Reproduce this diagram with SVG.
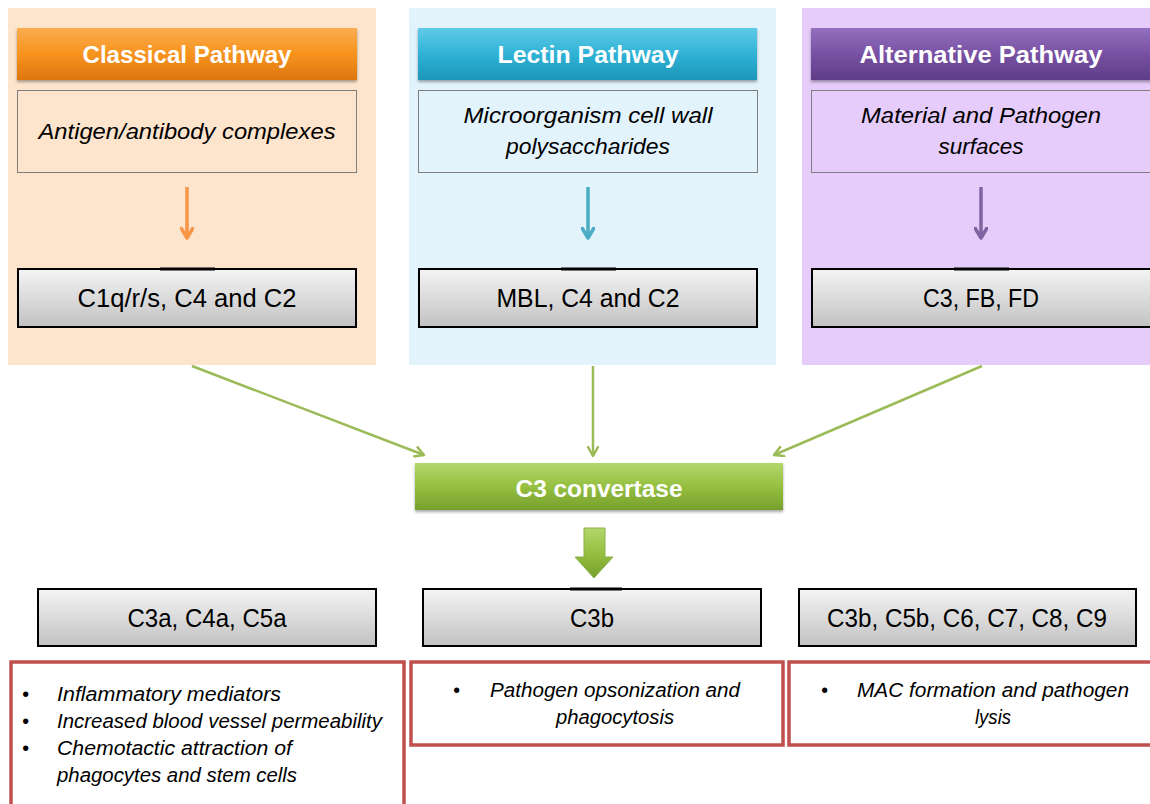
<svg xmlns="http://www.w3.org/2000/svg" width="1150" height="804" viewBox="0 0 1150 804">
<defs>
<linearGradient id="gOr" x1="0" y1="0" x2="0" y2="1"><stop offset="0" stop-color="#fbad4f"/><stop offset="0.5" stop-color="#f7931e"/><stop offset="1" stop-color="#dc760f"/></linearGradient>
<linearGradient id="gBl" x1="0" y1="0" x2="0" y2="1"><stop offset="0" stop-color="#5fcbe7"/><stop offset="0.5" stop-color="#2fb2d6"/><stop offset="1" stop-color="#1b96b8"/></linearGradient>
<linearGradient id="gPu" x1="0" y1="0" x2="0" y2="1"><stop offset="0" stop-color="#9370bf"/><stop offset="0.5" stop-color="#7851a3"/><stop offset="1" stop-color="#5f3d88"/></linearGradient>
<linearGradient id="gGr" x1="0" y1="0" x2="0" y2="1"><stop offset="0" stop-color="#b4d66c"/><stop offset="0.5" stop-color="#95c040"/><stop offset="1" stop-color="#76a02c"/></linearGradient>
<linearGradient id="gGy" x1="0" y1="0" x2="0" y2="1"><stop offset="0" stop-color="#f4f4f4"/><stop offset="1" stop-color="#c2c2c2"/></linearGradient>
<marker id="mG" viewBox="0 0 12 12" refX="10" refY="6" markerWidth="12" markerHeight="12" markerUnits="userSpaceOnUse" orient="auto"><path d="M1,1 L10,6 L1,11" fill="none" stroke="#9bbb59" stroke-width="2.5" stroke-linecap="round" stroke-linejoin="round"/></marker>
<marker id="mO" viewBox="0 0 14 14" refX="11" refY="7" markerWidth="14" markerHeight="14" markerUnits="userSpaceOnUse" orient="auto"><path d="M1,1 L11,7 L1,13" fill="none" stroke="#f79646" stroke-width="3.5" stroke-linecap="round" stroke-linejoin="round"/></marker>
<marker id="mB" viewBox="0 0 14 14" refX="11" refY="7" markerWidth="14" markerHeight="14" markerUnits="userSpaceOnUse" orient="auto"><path d="M1,1 L11,7 L1,13" fill="none" stroke="#4bacc6" stroke-width="3.5" stroke-linecap="round" stroke-linejoin="round"/></marker>
<marker id="mP" viewBox="0 0 14 14" refX="11" refY="7" markerWidth="14" markerHeight="14" markerUnits="userSpaceOnUse" orient="auto"><path d="M1,1 L11,7 L1,13" fill="none" stroke="#8064a2" stroke-width="3.5" stroke-linecap="round" stroke-linejoin="round"/></marker>
<filter id="sh" x="-5%" y="-20%" width="110%" height="150%"><feDropShadow dx="0" dy="2" stdDeviation="1.5" flood-color="#000" flood-opacity="0.35"/></filter>
</defs>
<style>
.hd{font-family:"Liberation Sans",Arial,sans-serif;font-weight:bold;font-size:24px;fill:#fff;text-anchor:middle}
.src{font-family:"Liberation Sans",Arial,sans-serif;font-style:italic;font-size:22px;fill:#000;text-anchor:middle}
.gy{font-family:"Liberation Sans",Arial,sans-serif;font-size:25px;fill:#000;text-anchor:middle}
.it{font-family:"Liberation Sans",Arial,sans-serif;font-style:italic;font-size:20px;fill:#000}
.srcbox{stroke:#7f7f7f;stroke-width:1}
.gbox{fill:url(#gGy);stroke:#000;stroke-width:2}
.rbox{fill:#fff;stroke:#c0504d;stroke-width:3.5}
.conn{stroke:#9bbb59;stroke-width:2.5;fill:none}
</style>
<rect width="1150" height="804" fill="#fff"/>

<g id="classical">
<rect x="8" y="8" width="368" height="357" fill="#fde4cc"/>
<rect x="17" y="28" width="340" height="52" fill="url(#gOr)" filter="url(#sh)"/>
<text class="hd" x="187" y="63" textLength="209" lengthAdjust="spacingAndGlyphs">Classical Pathway</text>
<rect class="srcbox" x="17.5" y="90.5" width="339" height="82" fill="#fde4cc"/>
<text class="src" x="187" y="139" textLength="297" lengthAdjust="spacingAndGlyphs">Antigen/antibody complexes</text>
<line x1="187" y1="187" x2="187" y2="238" stroke="#f79646" stroke-width="3.5" marker-end="url(#mO)"/>
<rect class="gbox" x="18" y="269" width="338" height="58"/>
<line x1="160" y1="269" x2="215" y2="269" stroke="#000" stroke-width="3"/>
<text class="gy" x="187" y="307" textLength="219" lengthAdjust="spacingAndGlyphs">C1q/r/s, C4 and C2</text>
</g>

<g id="lectin">
<rect x="409" y="8" width="367" height="357" fill="#e3f3fc"/>
<rect x="418" y="28" width="339" height="52" fill="url(#gBl)" filter="url(#sh)"/>
<text class="hd" x="588" y="63" textLength="181" lengthAdjust="spacingAndGlyphs">Lectin Pathway</text>
<rect class="srcbox" x="418.5" y="90.5" width="339" height="82" fill="#e3f3fc"/>
<text class="src" x="588" y="123" textLength="249" lengthAdjust="spacingAndGlyphs">Microorganism cell wall</text>
<text class="src" x="588" y="154" textLength="164" lengthAdjust="spacingAndGlyphs">polysaccharides</text>
<line x1="588" y1="187" x2="588" y2="238" stroke="#4bacc6" stroke-width="3.5" marker-end="url(#mB)"/>
<rect class="gbox" x="419" y="269" width="338" height="58"/>
<line x1="561" y1="269" x2="616" y2="269" stroke="#000" stroke-width="3"/>
<text class="gy" x="588" y="307" textLength="183" lengthAdjust="spacingAndGlyphs">MBL, C4 and C2</text>
</g>

<g id="alternative">
<rect x="802" y="8" width="348" height="357" fill="#e6ccfb"/>
<rect x="811" y="28" width="345" height="52" fill="url(#gPu)" filter="url(#sh)"/>
<text class="hd" x="981" y="63" textLength="243" lengthAdjust="spacingAndGlyphs">Alternative Pathway</text>
<rect class="srcbox" x="811.5" y="90.5" width="345" height="82" fill="#e6ccfb"/>
<text class="src" x="981" y="123" textLength="240" lengthAdjust="spacingAndGlyphs">Material and Pathogen</text>
<text class="src" x="981" y="154" textLength="85" lengthAdjust="spacingAndGlyphs">surfaces</text>
<line x1="981" y1="187" x2="981" y2="238" stroke="#8064a2" stroke-width="3.5" marker-end="url(#mP)"/>
<rect class="gbox" x="812" y="269" width="345" height="58"/>
<line x1="954" y1="269" x2="1009" y2="269" stroke="#000" stroke-width="3"/>
<text class="gy" x="981" y="307" textLength="116" lengthAdjust="spacingAndGlyphs">C3, FB, FD</text>
</g>

<g id="connectors">
<line class="conn" x1="192" y1="366" x2="424" y2="455" marker-end="url(#mG)"/>
<line class="conn" x1="593" y1="366" x2="593" y2="456" marker-end="url(#mG)"/>
<line class="conn" x1="982" y1="366" x2="774" y2="455" marker-end="url(#mG)"/>
<path d="M584,528 L605,528 L605,557 L613,557 L594,578 L575,557 L584,557 Z" fill="url(#gGr)" stroke="#8ab04a" stroke-width="1"/>
</g>

<g id="c3convertase">
<rect x="415" y="463" width="368" height="47" fill="url(#gGr)" filter="url(#sh)"/>
<text class="hd" x="599" y="497" textLength="167" lengthAdjust="spacingAndGlyphs">C3 convertase</text>
</g>

<g id="c3a">
<rect class="gbox" x="38" y="589" width="338" height="57"/>
<text class="gy" x="207" y="627" textLength="159" lengthAdjust="spacingAndGlyphs">C3a, C4a, C5a</text>
</g>
<g id="c3b">
<rect class="gbox" x="423" y="589" width="338" height="57"/>
<line x1="570" y1="589" x2="622" y2="589" stroke="#000" stroke-width="3"/>
<text class="gy" x="592" y="627" textLength="44" lengthAdjust="spacingAndGlyphs">C3b</text>
</g>
<g id="mac">
<rect class="gbox" x="799" y="589" width="337" height="57"/>
<text class="gy" x="967" y="627" textLength="280" lengthAdjust="spacingAndGlyphs">C3b, C5b, C6, C7, C8, C9</text>
</g>

<g id="effects-left">
<rect class="rbox" x="11" y="662" width="393" height="150"/>
<text class="it" x="22" y="701">•</text>
<text class="it" x="57" y="701" textLength="224" lengthAdjust="spacingAndGlyphs">Inflammatory mediators</text>
<text class="it" x="22" y="728">•</text>
<text class="it" x="57" y="728" textLength="325" lengthAdjust="spacingAndGlyphs">Increased blood vessel permeability</text>
<text class="it" x="22" y="755">•</text>
<text class="it" x="57" y="755" textLength="235" lengthAdjust="spacingAndGlyphs">Chemotactic attraction of</text>
<text class="it" x="57" y="782" textLength="240" lengthAdjust="spacingAndGlyphs">phagocytes and stem cells</text>
</g>
<g id="effects-middle">
<rect class="rbox" x="411" y="662" width="372" height="83"/>
<text class="it" x="453" y="697">•</text>
<text class="it" x="615" y="697" text-anchor="middle" textLength="250" lengthAdjust="spacingAndGlyphs">Pathogen opsonization and</text>
<text class="it" x="615" y="724" text-anchor="middle" textLength="118" lengthAdjust="spacingAndGlyphs">phagocytosis</text>
</g>
<g id="effects-right">
<rect class="rbox" x="789" y="662" width="370" height="83"/>
<text class="it" x="821" y="697">•</text>
<text class="it" x="993" y="697" text-anchor="middle" textLength="272" lengthAdjust="spacingAndGlyphs">MAC formation and pathogen</text>
<text class="it" x="993" y="724" text-anchor="middle" textLength="36" lengthAdjust="spacingAndGlyphs">lysis</text>
</g>
</svg>
